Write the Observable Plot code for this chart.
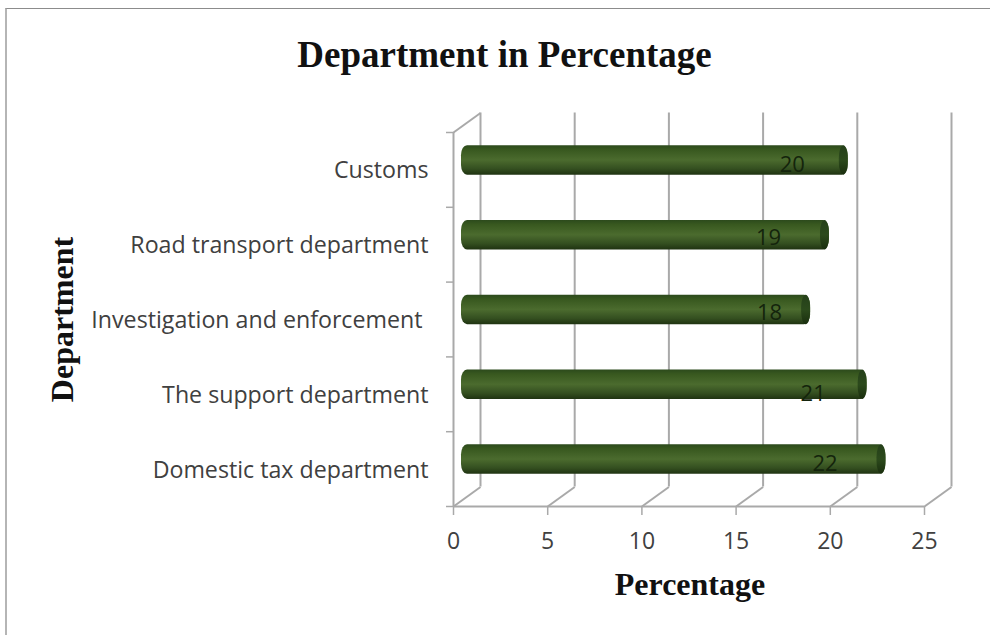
<!DOCTYPE html>
<html>
<head>
<meta charset="utf-8">
<script src="https://cdn.jsdelivr.net/npm/d3@7"></script>
<script src="https://cdn.jsdelivr.net/npm/@observablehq/plot@0.6"></script>
<style>
  html, body { margin: 0; padding: 0; background: #fff; width: 990px; height: 635px; overflow: hidden; }
  #frame { position: absolute; left: 5px; top: 8px; width: 985px; height: 627px; box-sizing: border-box;
           border-left: 2px solid #b5b5b5; border-top: 1px solid #8c8c8c; }
  #chart { position: absolute; left: 0; top: 0; }
  #chart svg { overflow: visible; }
</style>
</head>
<body>
<div id="frame"></div>
<div id="chart"></div>
<script>
// Share of staff per department, listed bottom to top along the axis.
const departments = [
  "Domestic tax department",
  "The support department",
  "Investigation and enforcement\u00a0",
  "Road transport department",
  "Customs"
];
const percentages = [22, 21, 18, 19, 20];
const percentTicks = [0, 5, 10, 15, 20, 25];
const slotEdges = [0, 1, 2, 3, 4, 5];
const chartTitle = "Department in Percentage";
const xTitle = "Percentage";
const yTitle = "Department";

const rows = departments.map((name, i) => ({ name, value: percentages[i], slot: i + 0.5 }));

// The faux 3D box: the back wall sits up and to the right of the front plane.
const depthX = 27 / 18.84;
const depthY = 19.5 / 74.8;
const wall = "#a9a9a9";
const serif = "'Liberation Serif', serif";
const sans = "'Open Sans', sans-serif";
const barHalf = 0.197;

// Vertical shading that gives the bars their rounded, cylinder look.
const shading = () => {
  const defs = d3.create("svg:defs");
  const addGradient = (id, stops) => {
    const g = defs.append("linearGradient").attr("id", id)
      .attr("x1", 0).attr("y1", 0).attr("x2", 0).attr("y2", 1);
    stops.forEach(([offset, color]) => g.append("stop").attr("offset", offset).attr("stop-color", color));
  };
  addGradient("tube", [[0, "#2c4a1c"], [0.15, "#38581f"], [0.5, "#4b6b2e"], [0.8, "#344f20"], [1, "#1f3311"]]);
  addGradient("tubeEnd", [[0, "#25401a"], [0.5, "#2c4a1c"], [1, "#1a2e0e"]]);
  return defs.node();
};

const valueLabel = (row, shift, lift) =>
  Plot.text([row], {
    x: "value", y: "slot", text: d => String(d.value),
    dx: shift, dy: lift,
    fontFamily: sans, fontSize: 22, fill: "#14240c"
  });

const chart = Plot.plot({
  width: 990,
  height: 635,
  marginLeft: 453,
  marginRight: 66,
  marginTop: 132,
  marginBottom: 129,
  style: { background: "transparent", overflow: "visible" },
  x: { domain: [0, 25], label: null },
  y: { domain: [0, 5], label: null, axis: null },
  marks: [
    shading,
    // back wall gridlines and the floor / side edges running into depth
    Plot.ruleX(percentTicks, { dx: 27, dy: -19.5, stroke: wall, strokeWidth: 2 }),
    Plot.link(percentTicks, { x1: d => d, y1: 0, x2: d => d + depthX, y2: depthY, stroke: wall, strokeWidth: 2 }),
    Plot.link([0], { x1: d => d, y1: 5, x2: d => d + depthX, y2: 5 + depthY, stroke: wall, strokeWidth: 2 }),
    // front plane axis lines and the ticks between category slots
    Plot.ruleY([0], { stroke: wall, strokeWidth: 2 }),
    Plot.ruleX([0], { stroke: wall, strokeWidth: 2 }),
    Plot.ruleY(slotEdges, { x1: 0, x2: 0, insetLeft: -7, stroke: wall, strokeWidth: 1.5 }),
    Plot.axisX({
      ticks: percentTicks, tickSize: 9, tickPadding: 17, stroke: wall, strokeWidth: 1.5,
      fontSize: 23, fontFamily: sans, fill: "#404040", label: null
    }),
    // cylinders
    Plot.rect(rows, {
      x1: 0, x2: "value",
      y1: d => d.slot - barHalf, y2: d => d.slot + barHalf,
      dx: 18, dy: -9.5, insetLeft: -10, rx: 6, ry: 10, fill: "url(#tube)"
    }),
    Plot.rect(rows, {
      x1: "value", x2: "value",
      y1: d => d.slot - barHalf, y2: d => d.slot + barHalf,
      dx: 18, dy: -9.5, insetLeft: -9, rx: 4.5, ry: 13, fill: "url(#tubeEnd)"
    }),
    // value labels sit on the bars at slightly different offsets
    valueLabel(rows[0], -43, -5),
    valueLabel(rows[1], -36, 0),
    valueLabel(rows[2], -23, -7),
    valueLabel(rows[3], -43, -7),
    valueLabel(rows[4], -38, -5),
    // category labels left of the axis
    Plot.text(rows, {
      x: 0, y: "slot", text: "name", textAnchor: "end", dx: -25, dy: 1,
      fontFamily: sans, fontSize: 23.2, fill: "#404040"
    }),
    // titles
    Plot.text([chartTitle], {
      frameAnchor: "top", text: d => d, dx: -184.5, dy: -92, fontFamily: serif, fontWeight: "bold",
      fontSize: 37, fill: "#111"
    }),
    Plot.text([xTitle], {
      frameAnchor: "bottom", text: d => d, dx: 1, dy: 88, fontFamily: serif, fontWeight: "bold",
      fontSize: 32, fill: "#111"
    }),
    Plot.text([yTitle], {
      frameAnchor: "left", textAnchor: "middle", text: d => d, dx: -391, dy: 0, rotate: -90,
      fontFamily: serif, fontWeight: "bold", fontSize: 32, fill: "#111"
    })
  ]
});
document.getElementById("chart").appendChild(chart);
</script>
</body>
</html>
